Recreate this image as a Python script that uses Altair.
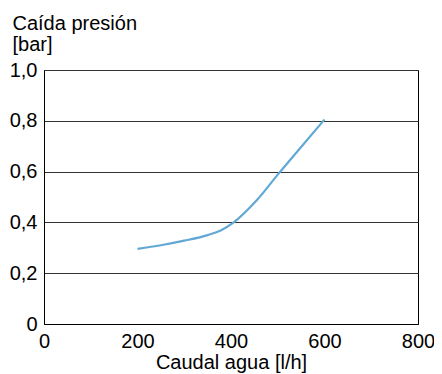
import altair as alt
import pandas as pd

caudal = [200, 250, 300, 350, 378, 405, 455, 500, 550, 600]
caida = [0.296, 0.31, 0.328, 0.35, 0.368, 0.399, 0.487, 0.588, 0.697, 0.805]

df = pd.DataFrame({"caudal": caudal, "caida": caida})

font = "Liberation Sans"
fs = 20

chart = alt.Chart(df).mark_line(
    color="#62a8d4", strokeWidth=2.2, interpolate="monotone"
).encode(
    x=alt.X("caudal:Q",
            scale=alt.Scale(domain=[0, 800], nice=False),
            axis=alt.Axis(values=[0, 200, 400, 600, 800], ticks=False, grid=False,
                          domain=True, domainColor="black",
                          labelFontSize=fs, labelFont=font, labelColor="black",
                          labelPadding=7, labelFlush=False, labelOverlap=False,
                          title="Caudal agua [l/h]", titleFontSize=fs, titleFont=font,
                          titleFontWeight="normal", titleColor="black",
                          titleBaseline="alphabetic", titleY=44)),
    y=alt.Y("caida:Q",
            scale=alt.Scale(domain=[0, 1], nice=False),
            axis=alt.Axis(values=[0, 0.2, 0.4, 0.6, 0.8, 1.0], ticks=False,
                          grid=True, gridColor="#333333", gridWidth=1, gridOpacity=1,
                          domain=True, domainColor="black",
                          labelFontSize=fs, labelFont=font, labelColor="black",
                          labelPadding=7, labelOverlap=False,
                          labelExpr="datum.value == 0 ? '0\u00a0' : replace(format(datum.value, '.1f'), '.', ',')",
                          title=["Caída presión", "[bar]"], titleFontSize=fs, titleFont=font,
                          titleFontWeight="normal", titleColor="black",
                          titleAngle=0, titleAlign="left", titleBaseline="alphabetic",
                          titleX=-32, titleY=-41, titleLineHeight=21)),
).properties(
    width=374, height=254,
    autosize=alt.AutoSizeParams(type="none"),
    padding={"left": 36, "top": 62, "right": 16, "bottom": 60},
).configure_view(
    stroke="black", strokeWidth=1
)

chart.save("out.html", embed_options={"renderer": "svg", "actions": False})
